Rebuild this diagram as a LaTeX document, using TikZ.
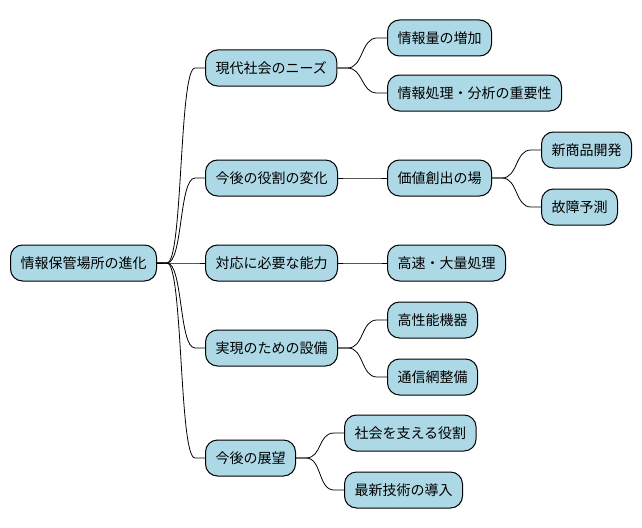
\documentclass[tikz,border=0pt]{standalone}
\usepackage{fontspec}
\newfontfamily\jpfont{Noto Sans CJK JP}
\definecolor{mm_blue}{RGB}{173, 216, 230}
\tikzstyle{mn}=[rectangle,rounded corners=12pt,fill=mm_blue,draw=black,
  line width=1pt,inner xsep=10pt,minimum height=36pt,anchor=west,
  font=\jpfont\fontsize{14pt}{16pt}\selectfont]
\tikzstyle{br}=[line width=0.8pt,to path={(\tikztostart.east) -- ++(10,0)
  .. controls +(16,0) and +(-16,0) .. ([xshift=-10pt]\tikztotarget.west)
  -- (\tikztotarget.west)}]

\begin{document}
\begin{tikzpicture}[x=1pt,y=-1pt]
    \useasboundingbox (0,0) rectangle (642,527);
    % nodes
    \node [style=mn] (0) at (10, 263) {情報保管場所の進化};
    \node [style=mn] (1) at (205, 68) {現代社会のニーズ};
    \node [style=mn] (2) at (205, 178) {今後の役割の変化};
    \node [style=mn] (3) at (205, 263) {対応に必要な能力};
    \node [style=mn] (4) at (205, 348) {実現のための設備};
    \node [style=mn] (5) at (205, 458) {今後の展望};
    \node [style=mn] (11) at (387, 38) {情報量の増加};
    \node [style=mn] (12) at (387, 93) {情報処理・分析の重要性};
    \node [style=mn] (21) at (387, 178) {価値創出の場};
    \node [style=mn] (211) at (541, 150) {新商品開発};
    \node [style=mn] (212) at (541, 207) {故障予測};
    \node [style=mn] (31) at (387, 263) {高速・大量処理};
    \node [style=mn] (41) at (387, 320) {高性能機器};
    \node [style=mn] (42) at (387, 377) {通信網整備};
    \node [style=mn] (51) at (344, 433) {社会を支える役割};
    \node [style=mn] (52) at (344, 490) {最新技術の導入};
    % edges
    \draw [style=br] (0) to (1);
    \draw [style=br] (0) to (2);
    \draw [style=br] (0) to (3);
    \draw [style=br] (0) to (4);
    \draw [style=br] (0) to (5);
    \draw [style=br] (1) to (11);
    \draw [style=br] (1) to (12);
    \draw [style=br] (2) to (21);
    \draw [style=br] (21) to (211);
    \draw [style=br] (21) to (212);
    \draw [style=br] (3) to (31);
    \draw [style=br] (4) to (41);
    \draw [style=br] (4) to (42);
    \draw [style=br] (5) to (51);
    \draw [style=br] (5) to (52);
  \end{tikzpicture}
\end{document}
